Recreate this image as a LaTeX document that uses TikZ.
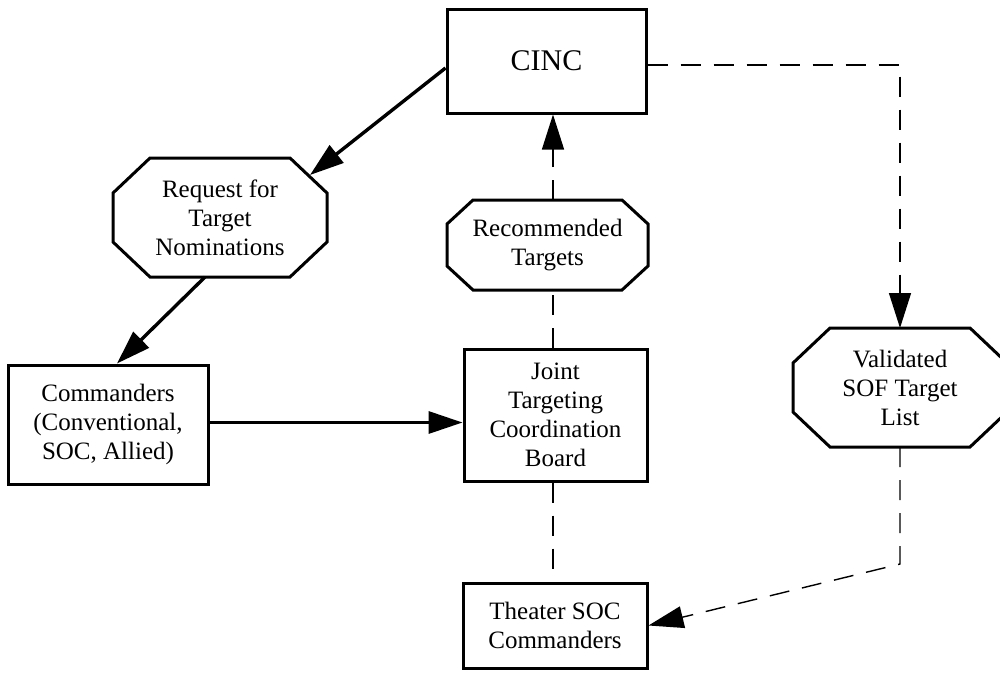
\documentclass[tikz,border=0pt]{standalone}
\usepackage{fontspec}
\setmainfont{Liberation Serif}
\usetikzlibrary{arrows.meta,calc}
\newcommand{\drawocto}[3]{%
  \draw[octline] ($(#1.north west)+(#2,0)$) -- ($(#1.north east)+(-#2,0)$)
    -- ($(#1.north east)+(0,#3)$) -- ($(#1.south east)+(0,-#3)$)
    -- ($(#1.south east)+(-#2,0)$) -- ($(#1.south west)+(#2,0)$)
    -- ($(#1.south west)+(0,-#3)$) -- ($(#1.north west)+(0,#3)$) -- cycle;}
\begin{document}
\begin{tikzpicture}[x=1pt,y=-1pt,
  txt/.style={align=center, font=\fontsize{25}{29}\selectfont, inner sep=0pt},
  box/.style={txt, draw, line width=3pt, rectangle},
  octo/.style={txt, rectangle, outer sep=0pt},
  octline/.style={line width=3pt, line join=miter},
  solidarrow/.style={line width=3.4pt, -{Triangle[length=34pt,width=22pt]}},
  dashline/.style={line width=1.4pt, dash pattern=on 20pt off 13pt},
  dasharrow/.style={dashline, -{Triangle[length=35pt,width=22pt]}},
]
\useasboundingbox (0,0) rectangle (1000,672);

\node[box, minimum width=199pt, minimum height=104pt, font=\fontsize{30}{34}\selectfont] (cinc) at (546.5,61) {CINC};
\node[octo, minimum width=214pt, minimum height=119pt] (req) at (220,217.5) {Request for\\Target\\Nominations};
\node[octo, minimum width=201pt, minimum height=90pt] (rec) at (547.5,245) {Recommended\\Targets};
\node[box, minimum width=200pt, minimum height=119pt] (com) at (108,424.5) {Commanders\\(Conventional,\\SOC, Allied)};
\node[box, minimum width=183pt, minimum height=132pt] (jtcb) at (555.5,415) {Joint\\Targeting\\Coordination\\Board};
\node[octo, minimum width=214pt, minimum height=119pt] (val) at (900,387.5) {Validated\\SOF Target\\List};
\node[box, minimum width=184pt, minimum height=85pt] (th) at (555,625.5) {Theater SOC\\Commanders};

\drawocto{req}{37}{35}
\drawocto{rec}{26}{24}
\drawocto{val}{37}{35}

\coordinate (vx) at (553,0);

\draw[solidarrow] ([yshift=-7pt]cinc.west) -- ($(req.north east)+(-17,17)$);
\draw[solidarrow] ([xshift=-15pt]req.south) -- ([xshift=9pt]com.north);
\draw[solidarrow] ([yshift=2pt]com.east) -- ([yshift=2pt]com.east -| jtcb.west);

\draw[dashline] (jtcb.north -| vx) -- (rec.south -| vx);
\draw[dasharrow] (rec.north -| vx) -- (cinc.south -| vx);
\draw[dashline] (jtcb.south -| vx) -- (th.north -| vx);

\draw[dasharrow] ([yshift=-4pt]cinc.east) -| (val.north);
\draw[dasharrow] (val.south) -- ++(0,117) -- (th.east);
\end{tikzpicture}
\end{document}
